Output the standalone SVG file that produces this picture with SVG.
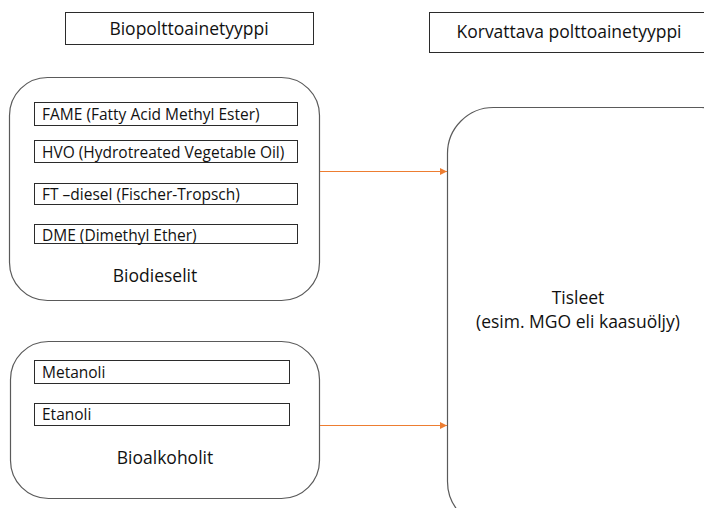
<svg xmlns="http://www.w3.org/2000/svg" width="704" height="508" viewBox="0 0 704 508">
  <defs>
    <marker id="arrowhead" markerWidth="8" markerHeight="8" refX="7" refY="4" orient="auto" markerUnits="userSpaceOnUse">
      <path d="M0,0.5 L7,4 L0,7.5 Z" fill="#ED7D31"/>
    </marker>
    <style>
      text { font-family: "Open Sans", "Liberation Sans", sans-serif; fill: #111111; }
      .hdr { fill: #ffffff; stroke: #2b2b2b; stroke-width: 1; }
      .group { fill: #ffffff; stroke: #5a5a5a; stroke-width: 1.2; }
      .item { fill: #ffffff; stroke: #2b2b2b; stroke-width: 1; }
      .itemtxt { font-size: 15.5px; }
      .title { font-size: 17.5px; text-anchor: middle; }
      .big { font-size: 17.5px; text-anchor: middle; }
      .link { stroke: #ED7D31; stroke-width: 1.2; fill: none; marker-end: url(#arrowhead); }
    </style>
  </defs>
  <rect width="704" height="508" fill="#ffffff"/>

  <!-- column headers -->
  <g id="header-bio">
    <rect class="hdr" x="65.5" y="12.5" width="248" height="32"/>
    <text class="title" x="189" y="35">Biopolttoainetyyppi</text>
  </g>
  <g id="header-replaced">
    <rect class="hdr" x="429.5" y="12.5" width="280" height="40"/>
    <text class="title" x="569" y="38">Korvattava polttoainetyyppi</text>
  </g>

  <!-- biodiesel group -->
  <g id="biodieselit">
    <rect class="group" x="9.5" y="77.5" width="310" height="223" rx="38" ry="38"/>
    <rect class="item" x="34.5" y="102.5" width="263" height="23"/>
    <text class="itemtxt" x="42" y="120">FAME (Fatty Acid Methyl Ester)</text>
    <rect class="item" x="34.5" y="140.5" width="263" height="22"/>
    <text class="itemtxt" x="42" y="158">HVO (Hydrotreated  Vegetable Oil)</text>
    <rect class="item" x="34.5" y="183.5" width="263" height="21"/>
    <text class="itemtxt" x="42" y="200">FT –diesel  (Fischer-Tropsch)</text>
    <rect class="item" x="34.5" y="224.5" width="263" height="19"/>
    <text class="itemtxt" x="42" y="241">DME (Dimethyl Ether)</text>
    <text class="big" x="155" y="282">Biodieselit</text>
  </g>

  <!-- bioalcohol group -->
  <g id="bioalkoholit">
    <rect class="group" x="10.5" y="341.5" width="309" height="157" rx="38" ry="38"/>
    <rect class="item" x="34.5" y="360.5" width="255" height="23"/>
    <text class="itemtxt" x="42" y="378">Metanoli</text>
    <rect class="item" x="34.5" y="403.5" width="255" height="22"/>
    <text class="itemtxt" x="42" y="420">Etanoli</text>
    <text class="big" x="165" y="464">Bioalkoholit</text>
  </g>

  <!-- distillate target -->
  <g id="tisleet">
    <rect class="group" x="447.5" y="107.5" width="300" height="420" rx="46" ry="46"/>
    <text class="big" x="578" y="304">Tisleet</text>
    <text class="big" x="578" y="328">(esim. MGO eli kaasuöljy)</text>
  </g>

  <!-- connectors -->
  <g id="connectors">
    <line class="link" x1="320" y1="171.5" x2="447" y2="171.5"/>
    <line class="link" x1="320" y1="425.5" x2="447" y2="425.5"/>
  </g>
</svg>
